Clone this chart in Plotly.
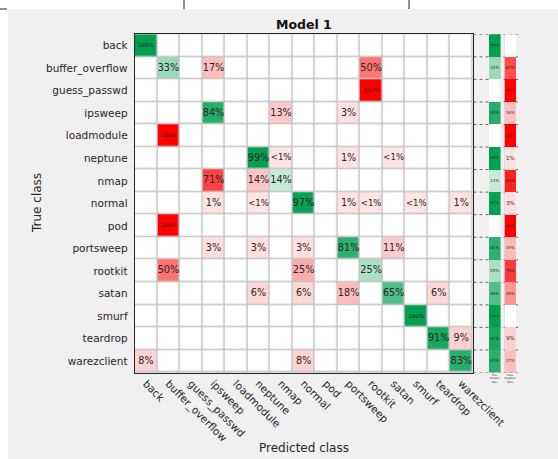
import plotly.graph_objects as go

# Class names (rows = true class, columns = predicted class)
classes = ["back", "buffer_overflow", "guess_passwd", "ipsweep", "loadmodule",
           "neptune", "nmap", "normal", "pod", "portsweep", "rootkit", "satan",
           "smurf", "teardrop", "warezclient"]

# Row-normalised percentages; 0.5 stands for entries shown as "<1%"
row_back            = [100, 0, 0, 0, 0, 0, 0, 0, 0, 0, 0, 0, 0, 0, 0]
row_buffer_overflow = [0, 33, 0, 17, 0, 0, 0, 0, 0, 0, 50, 0, 0, 0, 0]
row_guess_passwd    = [0, 0, 0, 0, 0, 0, 0, 0, 0, 0, 100, 0, 0, 0, 0]
row_ipsweep         = [0, 0, 0, 84, 0, 0, 13, 0, 0, 3, 0, 0, 0, 0, 0]
row_loadmodule      = [0, 100, 0, 0, 0, 0, 0, 0, 0, 0, 0, 0, 0, 0, 0]
row_neptune         = [0, 0, 0, 0, 0, 99, 0.5, 0, 0, 1, 0, 0.5, 0, 0, 0]
row_nmap            = [0, 0, 0, 71, 0, 14, 14, 0, 0, 0, 0, 0, 0, 0, 0]
row_normal          = [0, 0, 0, 1, 0, 0.5, 0, 97, 0, 1, 0.5, 0, 0.5, 0, 1]
row_pod             = [0, 100, 0, 0, 0, 0, 0, 0, 0, 0, 0, 0, 0, 0, 0]
row_portsweep       = [0, 0, 0, 3, 0, 3, 0, 3, 0, 81, 0, 11, 0, 0, 0]
row_rootkit         = [0, 50, 0, 0, 0, 0, 0, 25, 0, 0, 25, 0, 0, 0, 0]
row_satan           = [0, 0, 0, 0, 0, 6, 0, 6, 0, 18, 0, 65, 0, 6, 0]
row_smurf           = [0, 0, 0, 0, 0, 0, 0, 0, 0, 0, 0, 0, 100, 0, 0]
row_teardrop        = [0, 0, 0, 0, 0, 0, 0, 0, 0, 0, 0, 0, 0, 91, 9]
row_warezclient     = [8, 0, 0, 0, 0, 0, 0, 8, 0, 0, 0, 0, 0, 0, 83]

rows = [row_back, row_buffer_overflow, row_guess_passwd, row_ipsweep,
        row_loadmodule, row_neptune, row_nmap, row_normal, row_pod,
        row_portsweep, row_rootkit, row_satan, row_smurf, row_teardrop,
        row_warezclient]

# Row summary: true positive rate and false negative rate
tpr = [rows[i][i] for i in range(len(classes))]
fnr = [100 - t for t in tpr]

W, H = 558, 459
TXT = "#262626"
FONT = "DejaVu Sans"
N = len(classes)


def px(x):
    return x / W


def py(y):
    return 1 - y / H


def label(v):
    if v == 0:
        return ""
    if v < 1:
        return "<1%"
    return f"{round(v)}%"


def shade(v, positive):
    # colour intensity with a small floor so tiny shares still show
    if v == 0:
        return 0.0
    t = 0.1 + 0.9 * v / 100.0
    return t if positive else -t


def cell_font(s):
    if s == "<1%":
        return 8.5
    return 5.5 if len(s) == 4 else 9.7


def side_font(s):
    return {4: 3.2, 3: 4.0, 2: 5.5}.get(len(s), 5.5)


colorscale = [[0.0, "rgb(255,0,0)"], [0.5, "rgb(255,255,255)"],
              [1.0, "rgb(0,160,80)"]]

z_main = [[shade(rows[i][j], i == j) for j in range(N)] for i in range(N)]

fig = go.Figure()

fig.add_trace(go.Heatmap(
    x=classes, y=classes, z=z_main, zmin=-1, zmax=1,
    colorscale=colorscale, showscale=False, xgap=1.5, ygap=1.5,
    hoverinfo="skip", xaxis="x", yaxis="y"))

tx, ty, tt, tf = [], [], [], []
for i in range(N):
    for j in range(N):
        s = label(rows[i][j])
        if s:
            tx.append(classes[j]); ty.append(classes[i])
            tt.append(s); tf.append(cell_font(s))
fig.add_trace(go.Scatter(
    x=tx, y=ty, text=tt, mode="text",
    textfont=dict(family=FONT, size=tf, color=TXT),
    hoverinfo="skip", showlegend=False, xaxis="x", yaxis="y"))

# Row summary columns
for col, vals, positive, xa, ya in [
        ("True<br>Positive<br>Rate", tpr, True, "x2", "y2"),
        ("False<br>Negative<br>Rate", fnr, False, "x3", "y3")]:
    fig.add_trace(go.Heatmap(
        x=[col] * N, y=classes,
        z=[shade(v, positive) for v in vals], zmin=-1, zmax=1,
        colorscale=colorscale, showscale=False, hoverinfo="skip",
        xaxis=xa, yaxis=ya))
    labs = [label(v) for v in vals]
    fig.add_trace(go.Scatter(
        x=[col] * N, y=classes, text=labs, mode="text",
        textfont=dict(family=FONT, size=[side_font(s) for s in labs], color=TXT),
        hoverinfo="skip", showlegend=False, xaxis=xa, yaxis=ya))

grid_x = [px(134.7), px(472.5)]
grid_y = [py(372.5), py(34.3)]
cat_x = [-0.5, N - 0.5]
cat_y = [N - 0.5, -0.5]

axis_common = dict(type="category", showgrid=False, zeroline=False,
                   automargin=False)
fig.update_layout(
    width=W, height=H, autosize=False, margin=dict(l=0, r=0, t=0, b=0, pad=0),
    paper_bgcolor="#f0f0f0", plot_bgcolor="#c4c4c4",
    font=dict(family=FONT, color=TXT),
    showlegend=False,
    xaxis=dict(axis_common, domain=grid_x, anchor="y", range=cat_x,
               tickangle=45, tickfont=dict(size=10.5, color=TXT),
               showline=True, mirror=True, linecolor="#262626", linewidth=1,
               ticks=""),
    yaxis=dict(axis_common, domain=grid_y, anchor="x", range=cat_y,
               tickfont=dict(size=10.5, color=TXT), showline=True,
               mirror=True, linecolor="#262626", linewidth=1, ticks="",
               ticklabelstandoff=4),
    xaxis2=dict(axis_common, domain=[px(489), px(500.5)], anchor="y2",
                range=[-0.5, 0.5], tickfont=dict(size=2.6, color=TXT),
                ticks="", tickangle=0),
    yaxis2=dict(axis_common, domain=grid_y, anchor="x2", range=cat_y,
                showticklabels=False),
    xaxis3=dict(axis_common, domain=[px(504.5), px(516)], anchor="y3",
                range=[-0.5, 0.5], tickfont=dict(size=2.6, color=TXT),
                ticks="", tickangle=0),
    yaxis3=dict(axis_common, domain=grid_y, anchor="x3", range=cat_y,
                showticklabels=False),
)

shapes = [
    # white page margin above and left of the figure window
    dict(type="rect", xref="paper", yref="paper", x0=0, x1=1, y0=py(9), y1=1,
         fillcolor="white", line_width=0, layer="below"),
    dict(type="rect", xref="paper", yref="paper", x0=0, x1=px(8), y0=0, y1=1,
         fillcolor="white", line_width=0, layer="below"),
    dict(type="line", xref="paper", yref="paper", x0=0, x1=px(7),
         y0=py(9), y1=py(9), line=dict(color="#222", width=1)),
    dict(type="line", xref="paper", yref="paper", x0=px(184), x1=px(184),
         y0=1, y1=py(9), line=dict(color="#222", width=1)),
    dict(type="line", xref="paper", yref="paper", x0=px(409), x1=px(409),
         y0=1, y1=py(9), line=dict(color="#222", width=1)),
]
# dotted row separators running out to the summary columns
for k in range(N + 1):
    shapes.append(dict(type="line", xref="paper", yref="y",
                       x0=px(473.5), x1=px(518), y0=k - 0.5, y1=k - 0.5,
                       line=dict(color="#666", width=1, dash="dot"),
                       layer="below"))
fig.update_layout(shapes=shapes)

fig.update_layout(annotations=[
    dict(text="<b>Model 1</b>", xref="paper", yref="paper", x=px(304),
         y=py(24), xanchor="center", yanchor="middle", showarrow=False,
         font=dict(size=12.5, color="#111")),
    dict(text="True class", xref="paper", yref="paper", x=px(37),
         y=py(203), xanchor="center", yanchor="middle", textangle=-90,
         showarrow=False, font=dict(size=12, color=TXT)),
    dict(text="Predicted class", xref="paper", yref="paper", x=px(304),
         y=py(448), xanchor="center", yanchor="middle", showarrow=False,
         font=dict(size=12, color=TXT)),
])

fig.write_html("out.html", config={"displayModeBar": False})
